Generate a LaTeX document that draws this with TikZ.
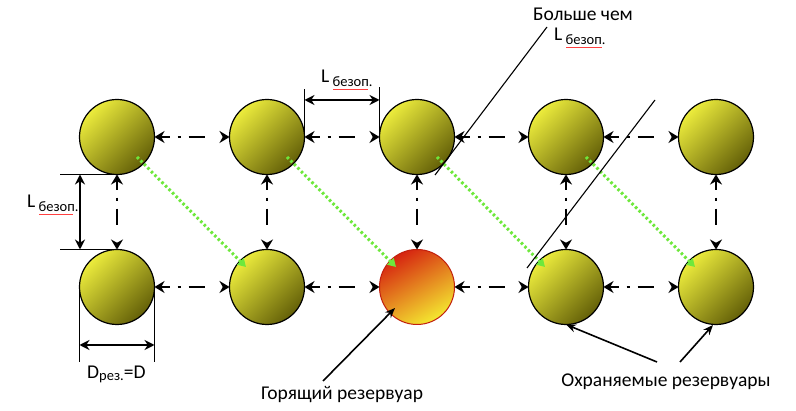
\documentclass[tikz,border=0pt]{standalone}
\usepackage{fontspec}
\setmainfont{Carlito}
\usetikzlibrary{arrows.meta,calc}
\definecolor{ylight}{RGB}{236,236,60}
\definecolor{ydark}{RGB}{100,96,8}
\definecolor{fred}{RGB}{214,36,16}
\definecolor{fyel}{RGB}{244,232,48}
\definecolor{gline}{RGB}{110,232,60}
\tikzset{
  tank/.style={circle, minimum size=75pt, inner sep=0pt, outer sep=0pt, draw=black, line width=1.2pt,
    left color=ylight, right color=ydark, shading angle=45},
  firetank/.style={circle, minimum size=75pt, inner sep=0pt, outer sep=0pt, draw=fred!90!black, line width=1pt,
    left color=fred, right color=fyel, shading angle=30},
  conn/.style={line width=2.8pt, {Stealth[length=10pt,width=12pt]}-{Stealth[length=10pt,width=12pt]},
    dash pattern=on 9pt off 8pt on 3pt off 8pt on 16pt off 20pt},
  dimarr/.style={line width=1.9pt, {Stealth[length=10pt,width=10pt]}-{Stealth[length=10pt,width=10pt]}},
  ext/.style={line width=1.1pt},
  greenarr/.style={gline, line width=3pt, dash pattern=on 2.5pt off 2.5pt, -{Triangle[length=8pt,width=9pt]}},
  callout/.style={line width=1.6pt, -{Stealth[length=10pt,width=8pt]}},
  slant/.style={line width=1.1pt},
  lbl/.style={inner sep=0pt, font=\fontsize{19.5}{22}\selectfont},
  squig/.style={red!75!white, line width=0.6pt}
}
\newcommand{\Lbez}{L\,\raisebox{-4pt}{\fontsize{14.5}{16}\selectfont безоп.}}
\begin{document}
\begin{tikzpicture}[x=1pt,y=-1pt]
\useasboundingbox[fill=white] (0,0) rectangle (796,411);
% tanks
\node[tank] (c11) at (117,137) {};
\node[tank] (c12) at (267,137) {};
\node[tank] (c13) at (417,137) {};
\node[tank] (c14) at (566,137) {};
\node[tank] (c15) at (716,137) {};
\node[tank] (c21) at (117,287) {};
\node[tank] (c22) at (267,287) {};
\node[firetank] (c23) at (417,287) {};
\node[tank] (c24) at (566,287) {};
\node[tank] (c25) at (716,287) {};
% horizontal connectors
\foreach \r in {1,2}{
  \draw[conn] (c\r1) -- (c\r2);
  \draw[conn] (c\r2) -- (c\r3);
  \draw[conn] (c\r3) -- (c\r4);
  \draw[conn] (c\r4) -- (c\r5);
}
% vertical connectors
\foreach \c in {1,...,5}{
  \draw[conn] (c1\c) -- (c2\c);
}
% green radiation arrows
\draw[greenarr] ($(c11)+(20,20)$) -- ($(c22)+(-21,-20)$);
\draw[greenarr] ($(c12)+(20,20)$) -- ($(c23)+(-21,-20)$);
\draw[greenarr] ($(c13)+(20,20)$) -- ($(c24)+(-21,-20)$);
\draw[greenarr] ($(c14)+(20,20)$) -- ($(c25)+(-21,-20)$);
% left dimension
\draw[ext] (c11.south) -- +(-57,0);
\draw[ext] (c21.north) -- +(-57,0);
\draw[dimarr] ($(c11.south)+(-37,0)$) -- ($(c21.north)+(-37,0)$);
\node[lbl, anchor=west] (lleft) at (27,203) {\Lbez};
\draw[squig] (39,214) -- (73,214);
% top dimension
\draw[ext] (c12.east) -- +(0,-48);
\draw[ext] (c13.west) -- +(0,-50);
\draw[dimarr] ($(c12.east)+(0,-37)$) -- ($(c13.west)+(0,-37)$);
\node[lbl, anchor=west] (ltop) at (321,78) {\Lbez};
\draw[squig] (333,89) -- (368,89);
% bottom dimension
\draw[ext] (c21.west) -- +(0,75);
\draw[ext] (c21.east) -- +(0,75);
\draw[dimarr] ($(c21.west)+(0,58)$) -- ($(c21.east)+(0,58)$);
\node[lbl, anchor=west] (ldia) at (87,374) {D\raisebox{-2pt}{\fontsize{14.5}{16}\selectfont рез.}=D};
% "more than" label and slanted lines
\node[lbl] (more) at (583,14) {Больше чем};
\node[lbl, anchor=west] (lmore) at (554,36) {\Lbez};
\draw[squig] (566,47) -- (602,47);
\coordinate (s1a) at (547,27);
\coordinate (s1b) at (435,175);
\coordinate (s2a) at (655,100);
\coordinate (s2b) at (527,268);
\draw[slant] (s1a) -- (s1b);
\draw[slant] (s2a) -- (s2b);
% bottom labels
\node[lbl] (burn) at (342,395) {Горящий резервуар};
\node[lbl] (prot) at (666,382) {Охраняемые резервуары};
\coordinate (b0) at (323,381);
\draw[callout] (b0) -- ($(c23)+(-22,21)$);
\coordinate (p1) at (657,362);
\coordinate (p2) at (680,362);
\draw[callout] (p1) -- (c24.south);
\draw[callout] (p2) -- ($(c25)+(-3,38)$);
\end{tikzpicture}
\end{document}
